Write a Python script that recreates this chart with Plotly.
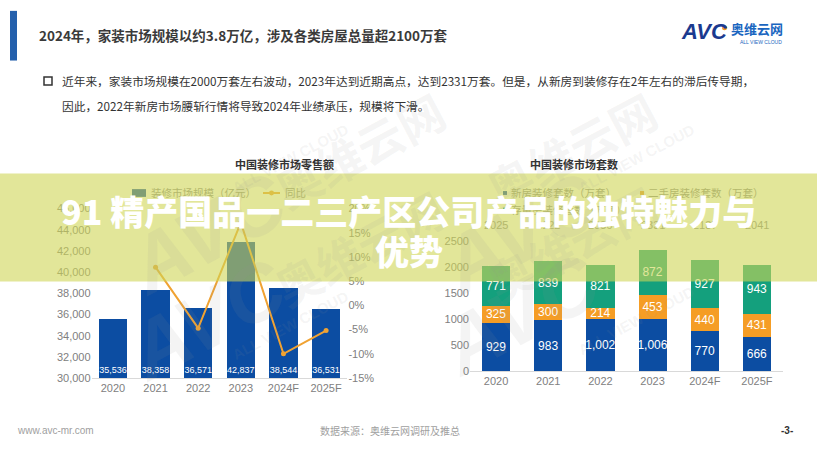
import plotly.graph_objects as go

W, H = 817, 460

# ---------------- data ----------------
years = ["2020", "2021", "2022", "2023", "2024F", "2025F"]
retail = [35536, 38358, 36571, 42837, 38544, 36531]          # 装修市场规模（亿元）
yoy_years = ["2021", "2022", "2023", "2024F", "2025F"]
yoy = [7.9, -4.7, 17.1, -10.0, -5.2]                          # 同比 %
new_house = [929, 983, 1002, 1006, 770, 666]                  # 新房装修套数（万套）
second_hand = [325, 300, 214, 453, 440, 431]                  # 二手房装修套数（万套）
stock_house = [771, 839, 821, 872, 927, 943]                  # 存量房装修套数（万套）
totals = [2025, 2122, 2036, 2331, 2137, 2041]
left_ticks = [30000, 32000, 34000, 36000, 38000, 40000, 42000, 44000, 46000]
yoy_ticks = [-15, -10, -5, 0, 5, 10, 15, 20]
right_ticks = [0, 500, 1000, 1500, 2000, 2500]

BLUE = "#0C4DA2"
ORANGE = "#F0A232"
ORANGE2 = "#F59D25"
TEAL = "#14A07D"
GREY = "#808080"

OV = (207, 213, 85)
OA = 0.6


def hex2rgb(h):
    h = h.lstrip("#")
    return tuple(int(h[i:i + 2], 16) for i in (0, 2, 4))


def blend(h):
    c = hex2rgb(h)
    r = [round(OA * OV[i] + (1 - OA) * c[i]) for i in range(3)]
    return "rgb(%d,%d,%d)" % tuple(r)


def px(x):
    return x / W


def py(y):
    return 1 - y / H


NUMF = "Liberation Sans, Arial, sans-serif"
CJK = "Noto Sans CJK SC, Noto Sans, sans-serif"

fig = go.Figure()

# left chart bars
fig.add_trace(go.Bar(
    x=years, y=[v - left_ticks[0] for v in retail], base=left_ticks[0],
    marker=dict(color=BLUE, line=dict(width=0)), width=0.66,
    text=[f"{v:,}" for v in retail], textposition="inside", insidetextanchor="start",
    textangle=0, textfont=dict(color="white", size=9, family=NUMF), constraintext="none",
    xaxis="x", yaxis="y", hoverinfo="skip"))
fig.add_trace(go.Scatter(
    x=yoy_years, y=yoy, mode="lines+markers",
    line=dict(color=ORANGE, width=2), marker=dict(color=ORANGE, size=5),
    xaxis="x", yaxis="y2", hoverinfo="skip"))

# right chart stacked bars
for vals, col in [(new_house, BLUE), (second_hand, ORANGE2), (stock_house, TEAL)]:
    fig.add_trace(go.Bar(
        x=years, y=vals, marker=dict(color=col, line=dict(width=0)), width=0.54,
        texttemplate="%{y:,}", textposition="inside", insidetextanchor="middle",
        textangle=0, textfont=dict(color="white", size=12, family=NUMF), constraintext="none",
        xaxis="x2", yaxis="y3", hoverinfo="skip"))

tickfont = dict(size=11, color=GREY, family=NUMF)
cat_range = [-0.5, len(years) - 0.5]

fig.update_layout(
    width=W, height=H, margin=dict(l=0, r=0, t=0, b=0),
    paper_bgcolor="white", plot_bgcolor="rgba(0,0,0,0)",
    barmode="stack", showlegend=False,
    xaxis=dict(domain=[px(91.6), px(347.4)], type="category", anchor="y", range=cat_range,
               showline=True, linecolor="#d9d9d9", linewidth=1, ticks="",
               showgrid=False, tickfont=tickfont),
    yaxis=dict(domain=[py(382), py(208)], range=[left_ticks[0], left_ticks[-1]],
               tickvals=left_ticks, tickformat=",", showgrid=False, zeroline=False,
               showline=False, ticks="", tickfont=tickfont, anchor="x"),
    yaxis2=dict(overlaying="y", side="right", anchor="x", range=[yoy_ticks[0], yoy_ticks[-1]],
                tickvals=yoy_ticks, ticktext=[f"{v}%" for v in yoy_ticks],
                showgrid=False, zeroline=False, showline=False, ticks="", tickfont=tickfont),
    xaxis2=dict(domain=[px(470), px(783)], type="category", anchor="y3", range=cat_range,
                showline=True, linecolor="#d9d9d9", linewidth=1, ticks="",
                showgrid=False, tickfont=tickfont),
    yaxis3=dict(domain=[py(375), py(241.25)], range=[right_ticks[0], right_ticks[-1]],
                tickvals=right_ticks, showgrid=False, zeroline=False, showline=False,
                ticks="", tickfont=tickfont, anchor="x2"),
)

shapes = []
ann = []

# watermark tiles
WM = "rgba(150,150,150,0.10)"


def wm(cx, cy):
    ann.append(dict(x=px(cx - 130), y=py(cy + 70), text="<b><i>AVC</i></b>", showarrow=False,
                    textangle=-28, font=dict(size=80, color=WM, family=NUMF)))
    ann.append(dict(x=px(cx + 20), y=py(cy - 10), text="<b>奥维云网</b>", showarrow=False,
                    textangle=-28, font=dict(size=46, color=WM, family=CJK)))
    ann.append(dict(x=px(cx + 50), y=py(cy + 35), text="<b>ALL VIEW CLOUD</b>", showarrow=False,
                    textangle=-28, font=dict(size=15, color=WM, family=NUMF)))


for cx, cy in [(240, 80), (650, 80), (240, 335), (650, 330)]:
    wm(cx, cy)

# header bar
shapes.append(dict(type="rect", xref="paper", yref="paper", x0=px(10), x1=px(17),
                   y0=py(56), y1=py(5), fillcolor="#2460AC", line=dict(width=0)))
ann.append(dict(x=px(37), y=py(30), xanchor="left", yanchor="middle", showarrow=False,
                text="<b>2024年，家装市场规模以约3.8万亿，涉及各类房屋总量超2100万套</b>",
                font=dict(size=13.5, color="#3a3a3a", family=CJK)))
# logo
ann.append(dict(x=px(679), y=py(26), xanchor="left", yanchor="middle", showarrow=False,
                text="<b><i>AVC</i></b>", font=dict(size=22, color="#1B3A8F", family=NUMF)))
shapes.append(dict(type="circle", xref="paper", yref="paper", x0=px(722), x1=px(727),
                   y0=py(25), y1=py(20), fillcolor="#F39A1E", line=dict(width=0)))
ann.append(dict(x=px(729), y=py(23), xanchor="left", yanchor="middle", showarrow=False,
                text="<b>奥维云网</b>", font=dict(size=13, color="#1A66C0", family=CJK)))
ann.append(dict(x=px(738), y=py(37), xanchor="left", yanchor="middle", showarrow=False,
                text="ALL VIEW CLOUD", font=dict(size=5, color="#1A66C0", family=NUMF)))

# paragraph
shapes.append(dict(type="rect", xref="paper", yref="paper", x0=px(44), x1=px(52),
                   y0=py(81), y1=py(73), line=dict(color="#333", width=1.5)))
ann.append(dict(x=px(60), y=py(77), xanchor="left", yanchor="middle", showarrow=False,
                text="近年来，家装市场规模在2000万套左右波动，2023年达到近期高点，达到2331万套。但是，从新房到装修存在2年左右的滞后传导期，",
                font=dict(size=11.7, color="#333", family=CJK)))
ann.append(dict(x=px(60), y=py(102), xanchor="left", yanchor="middle", showarrow=False,
                text="因此，2022年新房市场腰斩行情将导致2024年业绩承压，规模将下滑。",
                font=dict(size=11.7, color="#333", family=CJK)))

# chart titles
ann.append(dict(x=px(233), y=py(162), showarrow=False, text="<b>中国装修市场零售额</b>",
                font=dict(size=11, color="#333", family=CJK)))
ann.append(dict(x=px(620), y=py(162), showarrow=False, text="<b>中国装修市场套数</b>",
                font=dict(size=11, color="#333", family=CJK)))

# legend symbols (shapes, under overlay)
LEG_Y = 192
shapes.append(dict(type="rect", xref="paper", yref="paper", x0=px(132), x1=px(146),
                   y0=py(LEG_Y + 4), y1=py(LEG_Y - 4), fillcolor=BLUE, line=dict(width=0), layer="above"))
shapes.append(dict(type="line", xref="paper", yref="paper", x0=px(263), x1=px(280),
                   y0=py(LEG_Y), y1=py(LEG_Y), line=dict(color=ORANGE, width=2), layer="above"))
shapes.append(dict(type="circle", xref="paper", yref="paper", x0=px(269), x1=px(274),
                   y0=py(LEG_Y + 2.5), y1=py(LEG_Y - 2.5), fillcolor=ORANGE, line=dict(width=0), layer="above"))
for (lx, ly, col) in [(505, 192, BLUE), (642, 192, ORANGE2), (505, 209, TEAL)]:
    shapes.append(dict(type="rect", xref="paper", yref="paper", x0=px(lx - 2), x1=px(lx + 2),
                       y0=py(ly + 2), y1=py(ly - 2), fillcolor=col, line=dict(width=0), layer="above"))

# overlay banner
shapes.append(dict(type="rect", xref="paper", yref="paper", x0=0, x1=1, y0=py(283), y1=py(172),
                   fillcolor="rgba(%d,%d,%d,%.2f)" % (OV + (OA,)), line=dict(width=0), layer="above"))

LT = blend("#8c8c8c")
ann.append(dict(x=px(149), y=py(LEG_Y), xanchor="left", yanchor="middle", showarrow=False,
                text="装修市场规模（亿元）", font=dict(size=10.5, color=LT, family=CJK)))
ann.append(dict(x=px(283), y=py(LEG_Y), xanchor="left", yanchor="middle", showarrow=False,
                text="同比", font=dict(size=10.5, color=LT, family=CJK)))
for (lx, ly, t) in [(505, 192, "新房装修套数（万套）"), (642, 192, "二手房装修套数（万套）"),
                    (505, 209, "存量房装修套数（万套）")]:
    ann.append(dict(x=px(lx + 4), y=py(ly), xanchor="left", yanchor="middle", showarrow=False,
                    text=t, font=dict(size=10.5, color=LT, family=CJK)))

# totals row
for i, t in enumerate(totals):
    ann.append(dict(x=i, xref="x2", y=py(225), yref="paper", showarrow=False, text=str(t),
                    font=dict(size=11, color=LT, family=NUMF)))

# footer
ann.append(dict(x=px(15), y=py(436), xanchor="left", yanchor="middle", showarrow=False,
                text="www.avc-mr.com", font=dict(size=10, color="#a0a0a0", family=NUMF)))
ann.append(dict(x=px(390), y=py(436), xanchor="center", yanchor="middle", showarrow=False,
                text="数据来源：奥维云网调研及推总", font=dict(size=10, color="#a0a0a0", family=CJK)))
ann.append(dict(x=px(787), y=py(436), xanchor="center", yanchor="middle", showarrow=False,
                text="<b>-3-</b>", font=dict(size=10, color="#333", family=NUMF)))

# banner text
ann.append(dict(x=0.5, y=py(210), xanchor="center", yanchor="middle", showarrow=False,
                text="91 精产国品一二三产区公司产品的独特魅力与",
                font=dict(size=34, color="white", family=CJK, weight=900)))
ann.append(dict(x=0.5, y=py(251), xanchor="center", yanchor="middle", showarrow=False,
                text="优势", font=dict(size=34, color="white", family=CJK, weight=900)))

for a in ann:
    a.setdefault("xref", "paper")
    a.setdefault("yref", "paper")
for s in shapes:
    s.setdefault("layer", "below")

fig.update_layout(shapes=shapes, annotations=ann)
fig.write_html("out.html", config={"displayModeBar": False},
               post_script="document.body.style.margin='0';document.body.style.overflow='hidden';")
